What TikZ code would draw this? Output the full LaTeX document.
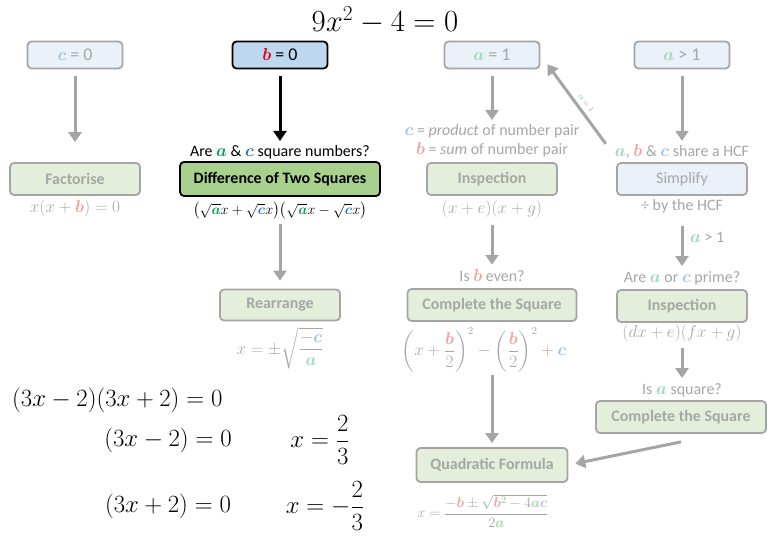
\documentclass[tikz,border=0pt]{standalone}
\usepackage[no-math]{fontspec}
\setmainfont{Carlito}
\usepackage{amsmath,bm}
\usetikzlibrary{arrows.meta}

\definecolor{fadetext}{HTML}{A6A6A6}
\definecolor{fadeline}{HTML}{A5A5A5}
\definecolor{bluefill}{HTML}{BDD7EE}
\definecolor{bluepale}{HTML}{EAF1F9}
\definecolor{greenfill}{HTML}{A9D18E}
\definecolor{greenpale}{HTML}{E3EFDB}
\definecolor{acol}{HTML}{00A050}
\definecolor{bcol}{HTML}{E00010}
\definecolor{ccol}{HTML}{2E75B6}
\definecolor{apale}{HTML}{9ED8B8}
\definecolor{bpale}{HTML}{F2A3A3}
\definecolor{cpale}{HTML}{9DC3E6}

\newcommand{\av}{{\color{acol}\bm{a}}}
\newcommand{\bv}{{\color{bcol}\bm{b}}}
\newcommand{\cv}{{\color{ccol}\bm{c}}}
\newcommand{\ap}{{\color{apale}\bm{a}}}
\newcommand{\bp}{{\color{bpale}\bm{b}}}
\newcommand{\cp}{{\color{cpale}\bm{c}}}

\begin{document}
\begin{tikzpicture}[x=1bp, y=-1bp, >={Triangle[length=10bp,width=13bp]},
	box/.style={rounded corners=4bp, line width=1.8bp, inner sep=2bp},
	topbox/.style={box, minimum width=95bp, minimum height=27bp, font=\fontsize{18}{20}\selectfont},
	stepbox/.style={box, minimum width=130bp, minimum height=32bp, font=\fontsize{16}{18}\bfseries},
	faint/.style={draw=fadeline, text=fadetext},
	lbl/.style={inner sep=1bp, font=\fontsize{16}{18}\selectfont},
	formula/.style={inner sep=0pt, font=\fontsize{16}{18}\selectfont},
	flow/.style={->, line width=3bp, draw=fadeline, fill=fadeline},
	flowon/.style={->, line width=3bp, draw=black, fill=black},
	big/.style={inner sep=0pt, font=\fontsize{25}{29}\selectfont}]
	
	\useasboundingbox (0,0) rectangle (780,540);
	
	\node[inner sep=0pt, scale=1.24, font=\fontsize{25}{29}\selectfont] (title) at (385,20) {$9x^2-4=0$};
	
	\node[topbox, faint, fill=bluepale] (c0) at (75,55) {$\cp$ = 0};
	\node[topbox, draw=black, fill=bluefill] (b0) at (280,55) {$\bv$ = 0};
	\node[topbox, faint, fill=bluepale] (a1) at (492,55) {$\ap$ = 1};
	\node[topbox, faint, fill=bluepale] (agt) at (682,55) {$\ap$ > 1};
	
	\node[lbl] (squares) at (280,152) {Are $\av$ \& $\cv$ square numbers?};
	\node[lbl, text=fadetext] (product) at (492,131) {$\cp$ = \textit{product} of number pair};
	\node[lbl, text=fadetext] (sum) at (492,150) {$\bp$ = \textit{sum} of number pair};
	\node[lbl, text=fadetext] (hcf) at (682,152) {$\ap$, $\bp$ \& $\cp$ share a HCF};
	
	\node[stepbox, faint, fill=greenpale] (fact) at (75,179) {Factorise};
	\node[stepbox, draw=black, fill=greenfill, minimum width=200bp, minimum height=34bp] (dots) at (280,179) {Difference of Two Squares};
	\node[stepbox, faint, fill=greenpale] (insp) at (492,179) {Inspection};
	\node[stepbox, faint, fill=bluepale, font=\fontsize{16}{18}\selectfont] (simp) at (682,179) {Simplify};
	
	\node[formula, text=fadetext] (factf) at (75,208) {$x(x+\bp)=0$};
	\node[formula, font=\fontsize{15}{17}\selectfont] (dotsf) at (280,211) {$\bigl(\sqrt{\av}x+\sqrt{\cv}x\bigr)\bigl(\sqrt{\av}x-\sqrt{\cv}x\bigr)$};
	\node[formula, text=fadetext] (inspf) at (492,209) {$(x+e)(x+g)$};
	\node[lbl, text=fadetext] (simpf) at (682,206) {÷ by the HCF};
	
	\node[lbl, text=fadetext, anchor=west] (again) at (689,237) {$\ap$ > 1};
	\node[lbl, text=fadetext] (even) at (492,276) {Is $\bp$ even?};
	\node[lbl, text=fadetext] (prime) at (682,278) {Are $\ap$ or $\cp$ prime?};
	
	\node[stepbox, faint, fill=greenpale, minimum width=120bp, minimum height=31bp] (rear) at (280,305) {Rearrange};
	\node[stepbox, faint, fill=greenpale, minimum width=169bp] (cts) at (492,305) {Complete the Square};
	\node[stepbox, faint, fill=greenpale] (insp2) at (682,306) {Inspection};
	
	\node[formula, text=fadetext] (rearf) at (280,348) {$x=\pm\sqrt{\dfrac{-\cp}{\ap}}$};
	\node[formula, text=fadetext] (ctsf) at (484,350) {$\left(x+\dfrac{\bp}{2}\right)^{2}-\left(\dfrac{\bp}{2}\right)^{2}+\cp$};
	\node[formula, text=fadetext] (insp2f) at (682,333) {$(dx+e)(fx+g)$};
	
	\node[lbl, text=fadetext] (asq) at (682,390) {Is $\ap$ square?};
	\node[stepbox, faint, fill=greenpale, minimum width=170bp] (cts2) at (681,417) {Complete the Square};
	\node[stepbox, faint, fill=greenpale, minimum width=151bp, minimum height=34bp] (qf) at (492,465) {Quadratic Formula};
	\node[formula, text=fadetext, font=\fontsize{14}{16}\selectfont] (qff) at (483,511) {$x=\dfrac{-\bp\pm\sqrt{\bp^{2}-4\ap\cp}}{2\ap}$};
	
	\draw[flow, shorten <=7bp, shorten >=20bp] (c0) -- (fact);
	\draw[flowon, shorten <=7bp, shorten >=3bp] (b0) -- (squares);
	\draw[flow, shorten <=7bp, shorten >=3bp] (a1) -- (product);
	\draw[flow, shorten <=7bp, shorten >=3bp] (agt) -- (hcf);
	\draw[flow, shorten <=4bp, shorten >=8bp] (dotsf) -- (rear);
	\draw[flow, shorten <=7bp, shorten >=4bp] (inspf) -- (even);
	\draw[flow, shorten <=12bp, shorten >=4bp] (simpf) -- (prime);
	\draw[flow, shorten <=3bp, shorten >=4bp] (ctsf) ++(8,0) coordinate (ctsb) (ctsb |- ctsf.south) -- (qf);
	\draw[flow, shorten <=6bp, shorten >=4bp] (insp2f) -- (asq);
	\draw[flow, shorten >=7bp] ([yshift=-8bp]cts2.south) -- (qf.east);
	\draw[flow] ([xshift=-8bp]hcf.north west) -- ([xshift=7bp,yshift=5bp]a1.south east)
		node[pos=0.45, sloped, above, inner sep=4.5bp, text=fadetext, font=\fontsize{8}{9}\selectfont] (alabel) {$\ap=1$};
	
	\node[big, anchor=west] (expand) at (12,400) {$(3x-2)(3x+2)=0$};
	\node[big] (left1) at (168,440) {$(3x-2)=0$};
	\node[big] (root1) at (320,440) {$x=\dfrac{2}{3}$};
	\node[big] (left2) at (168,506) {$(3x+2)=0$};
	\node[big] (root2) at (325,506) {$x=-\dfrac{2}{3}$};
	
\end{tikzpicture}
\end{document}
